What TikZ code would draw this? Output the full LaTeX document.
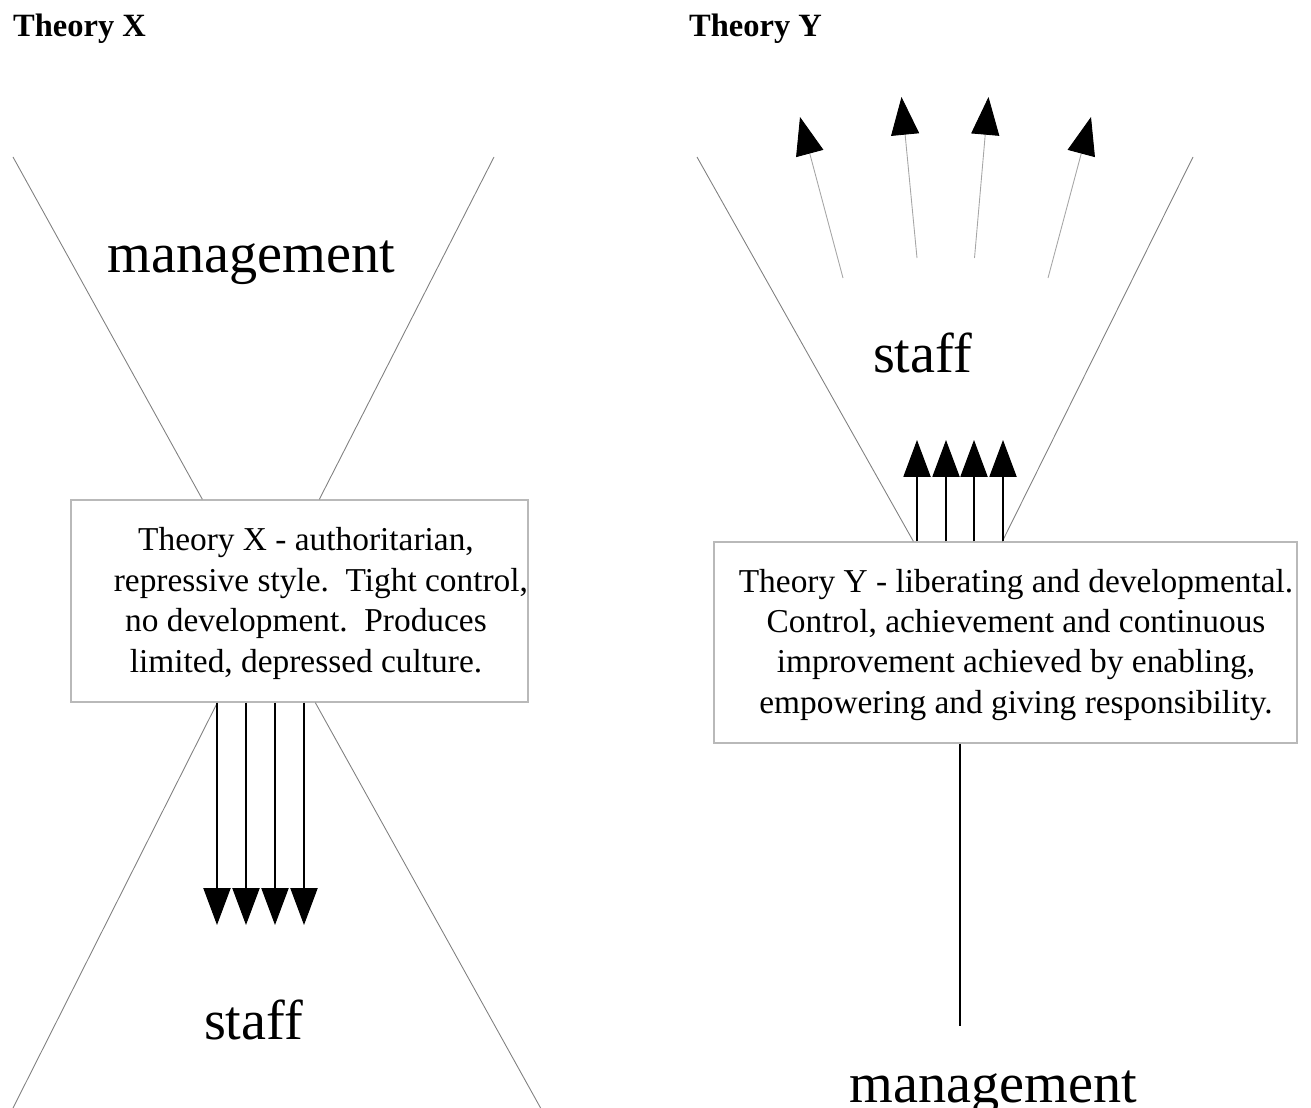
\documentclass[tikz,border=0pt]{standalone}
\usepackage{fontspec}
\setmainfont{Liberation Serif}
\usetikzlibrary{arrows.meta,calc}

\begin{document}
\begin{tikzpicture}[x=0.02cm,y=-0.02cm,
    rim/.style={draw=gray,line width=0.5pt},
    panel/.style={draw=gray!55,line width=0.8pt,shape=rectangle,inner sep=0pt},
    blurb/.style={align=center,font=\fontsize{19}{23}\selectfont},
    word/.style={anchor=base,font=\fontsize{32}{38}\selectfont},
    heading/.style={anchor=base west,font=\fontsize{18.5}{22}\selectfont\bfseries},
    push/.style={draw=black,line width=0.6pt,-{Triangle[length=21pt,width=15.5pt]}},
    spread/.style={draw=gray!70,line width=0.5pt,-{Triangle[length=21.5pt,width=16pt,color=black]}},
    stem/.style={draw=black,line width=0.6pt},
]
    \useasboundingbox (0,0) rectangle (1311,1108);

    \node[heading] (TX) at (7,37) {Theory X};
    \node[heading] (TY) at (683,37) {Theory Y};

    % theory X: management on top, staff pushed down
    \node[panel,minimum width=9.14cm,minimum height=4.04cm] (XB) at (299.5,601) {};
    \node[blurb] (XT) at (306,603.5) {Theory X - authoritarian,\\ \hspace*{17pt}repressive style.\ \ Tight control,\\ no development.\ \ Produces\\ limited, depressed culture.};
    \node[word] (XM) at (251.5,272) {management};
    \node[word] (XS) at (253.5,1039) {staff};

    \coordinate (XA) at (13,157);
    \coordinate (XC) at (494,157);
    \coordinate (XD) at (12,1110);
    \coordinate (XE) at (541.7,1110);
    \draw[rim] (XA) -- ($(XB.north west)+(132,0)$);
    \draw[rim] (XC) -- ($(XB.north west)+(249,0)$);
    \draw[rim] ($(XB.south west)+(147,0)$) -- (XD);
    \draw[rim] ($(XB.south west)+(245,0)$) -- (XE);

    \foreach \x in {217,246,275,304} {
        \coordinate (tip) at (\x,925);
        \draw[push] (XB.south -| tip) -- (tip);
    }

    % theory Y: management underneath, staff growing outwards
    \node[panel,minimum width=11.66cm,minimum height=4.02cm] (YB) at (1005.5,642.5) {};
    \node[blurb] (YT) at (1016,644.7) {Theory Y - liberating and developmental.\\ Control, achievement and continuous\\ improvement achieved by enabling,\\ empowering and giving responsibility.};
    \node[word] (YS) at (922.5,372) {staff};
    \node[word] (YM) at (993.5,1102) {management};

    \coordinate (YA) at (697,157);
    \coordinate (YC) at (1193,157);
    \draw[rim] (YA) -- ($(YB.north west)+(200,0)$);
    \draw[rim] (YC) -- ($(YB.north west)+(289,0)$);

    \foreach \x in {917,946,974,1003} {
        \coordinate (tip) at (\x,440);
        \draw[push] (YB.north -| tip) -- (tip);
    }

    \coordinate (YL) at (960,1026);
    \draw[stem] (YB.south -| YL) -- (YL);

    \coordinate (s1) at (843,278);   \coordinate (t1) at (800,117);
    \coordinate (s2) at (917,258);   \coordinate (t2) at (901.5,97);
    \coordinate (s3) at (974.5,258); \coordinate (t3) at (988.5,97);
    \coordinate (s4) at (1048,278);  \coordinate (t4) at (1091,117);
    \foreach \i in {1,...,4}
        \draw[spread] (s\i) -- (t\i);
\end{tikzpicture}
\end{document}
